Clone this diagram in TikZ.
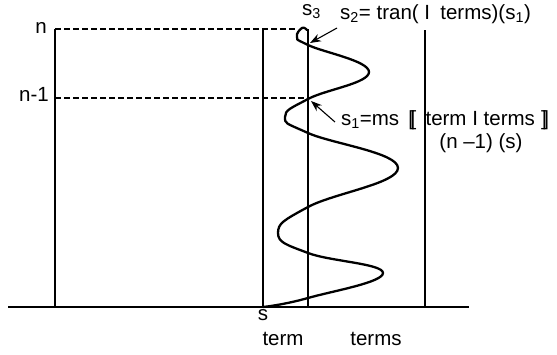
\documentclass[tikz,border=0pt]{standalone}
\usepackage{fontspec}
\setmainfont{Liberation Sans}
\usetikzlibrary{arrows.meta}
\newcommand{\lsem}{[\kern-0.17em[}
\newcommand{\rsem}{]\kern-0.17em]}
\begin{document}
\begin{tikzpicture}[x=1pt,y=1pt,
  thinline/.style={line width=1.4pt},
  dashline/.style={line width=1.3pt, dash pattern=on 6pt off 3pt},
  curveline/.style={line width=2.3pt, line join=round, line cap=round},
  ptr/.style={line width=1.1pt, -{Stealth[length=11pt,width=8pt]}},
  lbl/.style={inner sep=0pt, font=\fontsize{20.5}{24}\selectfont}]
\useasboundingbox (0,0) rectangle (557,355);
% axes and verticals
\coordinate (bl) at (8,48);
\coordinate (br) at (469,48);
\coordinate (v1b) at (55,48);   \coordinate (v1t) at (55,326);
\coordinate (v2b) at (263,48);  \coordinate (v2t) at (263,326);
\coordinate (v3b) at (308,48);  \coordinate (v3t) at (308,326);
\coordinate (v4b) at (425,48);  \coordinate (v4t) at (425,325);
\coordinate (dn) at (296,326);
\coordinate (dm) at (305,257);
\coordinate (dmL) at (55,257);
\draw[thinline] (bl) -- (br);
\draw[thinline] (v1b) -- (v1t);
\draw[thinline] (v2b) -- (v2t);
\draw[thinline] (v3b) -- (v3t);
\draw[thinline] (v4b) -- (v4t);
\draw[dashline] (v1t) -- (dn);
\draw[dashline] (dmL) -- (dm);
% wave
\draw[curveline] plot[smooth, tension=0.75] coordinates {
  (263,48) (308,57) (383,82) (308,102) (278,122) (308,148) (398,187)
  (308,222) (285,238) (308,256) (369,283) (308,310) (297,318) (302,327) (307,325)};
% labels
\node[lbl, anchor=mid east] (ln) at (47,324) {n};
\node[lbl, anchor=mid east] (lnm) at (49,256) {n-1};
\node[lbl, anchor=mid west] (ls3) at (302,342) {s\textsubscript{3}};
\node[lbl, anchor=mid west] (ls2) at (340,338) {s\textsubscript{2}= tran( I\hspace{0.5em}terms)(s\textsubscript{1})};
\node[lbl, anchor=mid west] (ls1) at (341,232) {s\textsubscript{1}=ms\hspace{0.45em}\lsem\hspace{0.45em}term I terms\hspace{0.3em}\rsem};
\node[lbl, anchor=mid] (lns) at (481,209) {(n –1) (s)};
\node[lbl, anchor=mid] (ls) at (263,37) {s};
\node[lbl, anchor=mid] (lterm) at (283,12) {term};
\node[lbl, anchor=mid] (lterms) at (376,12) {terms};
% pointers
\coordinate (a2s) at (337,327); \coordinate (a2t) at (310,312);
\coordinate (a1s) at (335,233); \coordinate (a1t) at (311,254);
\draw[ptr] (a2s) -- (a2t);
\draw[ptr] (a1s) -- (a1t);
\end{tikzpicture}
\end{document}
